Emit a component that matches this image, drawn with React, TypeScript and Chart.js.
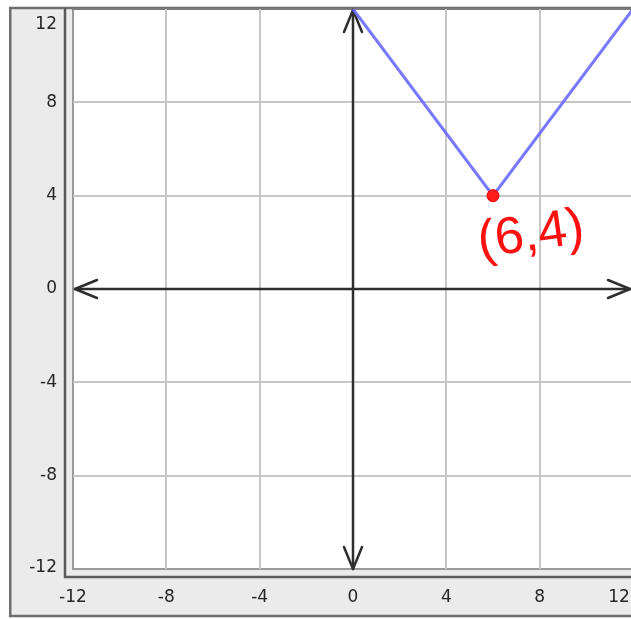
import React, { useEffect, useRef } from "react";
import { Chart, registerables } from "chart.js";

Chart.register(...registerables);

// Axis ticks (both axes run from -12 to 12 in steps of 4)
const xTicks = [-12, -8, -4, 0, 4, 8, 12];
const yTicks = [-12, -8, -4, 0, 4, 8, 12];

// Graph of y = (4/3)|x - 6| + 4 across the visible window
const lineX = [0, 6, 12];
const lineY = [12, 4, 12];

// Marked vertex
const vertexX = [6];
const vertexY = [4];

const CANVAS_W = 640;
const CANVAS_H = 619;

const FONT = '17px "DejaVu Sans", sans-serif';

function drawArrow(
  ctx: CanvasRenderingContext2D,
  tx: number,
  ty: number,
  dx: number,
  dy: number
) {
  // dx, dy: unit direction the arrow points to
  const len = 22;
  const half = 9;
  const bx = tx - dx * len;
  const by = ty - dy * len;
  const nx = -dy;
  const ny = dx;
  ctx.beginPath();
  ctx.moveTo(bx + nx * half, by + ny * half);
  ctx.lineTo(tx, ty);
  ctx.lineTo(bx - nx * half, by - ny * half);
  ctx.stroke();
}

const framePlugin = {
  id: "coordFrame",
  beforeDraw(chart: any) {
    const { ctx, chartArea } = chart;
    const { left, top, right, bottom } = chartArea;
    ctx.save();
    ctx.fillStyle = "#ffffff";
    ctx.fillRect(0, 0, CANVAS_W, CANVAS_H);

    // outer grey panel
    ctx.fillStyle = "#ebebeb";
    ctx.fillRect(9, 7, CANVAS_W, 610);
    ctx.strokeStyle = "#6e6e6e";
    ctx.lineWidth = 2.5;
    ctx.beginPath();
    ctx.moveTo(10, CANVAS_W);
    ctx.moveTo(CANVAS_W, 8);
    ctx.lineTo(10.25, 8);
    ctx.lineTo(10.25, 616);
    ctx.lineTo(CANVAS_W, 616);
    ctx.stroke();

    // dark outline of the plotting box
    ctx.strokeStyle = "#5a5a5a";
    ctx.lineWidth = 2.5;
    ctx.beginPath();
    ctx.moveTo(65, 8);
    ctx.lineTo(65, 577);
    ctx.lineTo(CANVAS_W, 577);
    ctx.stroke();

    // white plotting area
    ctx.fillStyle = "#ffffff";
    ctx.fillRect(left, top, right - left, bottom - top);

    // inner light outline
    ctx.strokeStyle = "#9a9a9a";
    ctx.lineWidth = 2;
    ctx.beginPath();
    ctx.moveTo(left, top);
    ctx.lineTo(left, bottom);
    ctx.lineTo(CANVAS_W, bottom);
    ctx.stroke();
    ctx.strokeStyle = "#7a7a7a";
    ctx.beginPath();
    ctx.moveTo(left - 1, top);
    ctx.lineTo(CANVAS_W, top);
    ctx.stroke();
    ctx.restore();
  },
  beforeDatasetsDraw(chart: any) {
    const { ctx, scales } = chart;
    const xs = scales.x;
    const ys = scales.y;
    const x0 = xs.getPixelForValue(0);
    const y0 = ys.getPixelForValue(0);
    const xl = xs.getPixelForValue(xTicks[0]);
    const xr = Math.min(xs.getPixelForValue(xTicks[xTicks.length - 1]), 630);
    const yt = ys.getPixelForValue(yTicks[yTicks.length - 1]);
    const yb = ys.getPixelForValue(yTicks[0]);
    ctx.save();
    ctx.strokeStyle = "#2e2e2e";
    ctx.lineWidth = 2.5;
    ctx.lineCap = "round";
    ctx.lineJoin = "round";
    ctx.beginPath();
    ctx.moveTo(xl + 2, y0);
    ctx.lineTo(xr, y0);
    ctx.moveTo(x0, yt + 1);
    ctx.lineTo(x0, yb);
    ctx.stroke();
    drawArrow(ctx, xl + 2, y0, -1, 0);
    drawArrow(ctx, xr, y0, 1, 0);
    drawArrow(ctx, x0, yt + 1, 0, -1);
    drawArrow(ctx, x0, yb, 0, 1);
    ctx.restore();
  },
  afterDraw(chart: any) {
    const { ctx, scales } = chart;
    const xs = scales.x;
    const ys = scales.y;
    ctx.save();
    ctx.font = FONT;
    ctx.fillStyle = "#262626";

    // y tick labels, kept inside the panel
    ctx.textAlign = "right";
    ctx.textBaseline = "middle";
    for (const v of yTicks) {
      const y = Math.min(Math.max(ys.getPixelForValue(v), 25), 568);
      ctx.fillText(String(v), 57, y);
    }

    // x tick labels, kept inside the visible width
    ctx.textAlign = "center";
    for (const v of xTicks) {
      const x = Math.min(xs.getPixelForValue(v), 619);
      ctx.fillText(String(v), x, 598);
    }

    // vertex annotation
    const px = xs.getPixelForValue(vertexX[0]);
    const py = ys.getPixelForValue(vertexY[0]);
    ctx.translate(px + 38, py + 40);
    ctx.rotate(-0.14);
    ctx.fillStyle = "#ff1010";
    ctx.font = '52px "Liberation Sans", sans-serif';
    ctx.textAlign = "center";
    ctx.textBaseline = "middle";
    ctx.fillText(`(${vertexX[0]},${vertexY[0]})`, 0, 0);
    ctx.restore();
  },
};

export default function App() {
  const canvasRef = useRef<HTMLCanvasElement | null>(null);

  useEffect(() => {
    const canvas = canvasRef.current;
    if (!canvas) return;

    const gridColor = (c: any) => {
      const v = c.tick ? c.tick.value : 0;
      return v === 0 || Math.abs(v) === 12 ? "rgba(0,0,0,0)" : "#c6c6c6";
    };

    const chart = new Chart(canvas, {
      type: "scatter",
      data: {
        datasets: [
          {
            label: "line",
            data: lineX.map((x, i) => ({ x, y: lineY[i] })),
            showLine: true,
            borderColor: "rgba(105,105,255,0.9)",
            borderWidth: 3,
            pointRadius: 0,
            fill: false,
            order: 2,
          },
          {
            label: "vertex",
            data: vertexX.map((x, i) => ({ x, y: vertexY[i] })),
            pointRadius: 6,
            backgroundColor: "#ff1a1a",
            borderColor: "#ee0000",
            borderWidth: 1,
            order: 1,
          },
        ],
      },
      options: {
        responsive: false,
        animation: false,
        devicePixelRatio: 1,
        layout: {
          padding: { left: 73, top: 9, right: CANVAS_W - 633, bottom: CANVAS_H - 569 },
        },
        plugins: {
          legend: { display: false },
          tooltip: { enabled: false },
        },
        scales: {
          x: {
            type: "linear",
            min: -12,
            max: 12,
            afterBuildTicks: (s: any) => {
              s.ticks = xTicks.map((value) => ({ value }));
            },
            ticks: { display: false },
            grid: { drawTicks: false, color: gridColor, lineWidth: 2 },
            border: { display: false },
          },
          y: {
            type: "linear",
            min: -12,
            max: 12,
            afterBuildTicks: (s: any) => {
              s.ticks = yTicks.map((value) => ({ value }));
            },
            ticks: { display: false },
            grid: { drawTicks: false, color: gridColor, lineWidth: 2 },
            border: { display: false },
          },
        },
      },
      plugins: [framePlugin],
    });

    return () => chart.destroy();
  }, []);

  return (
    <div
      style={{
        position: "fixed",
        left: 0,
        top: 0,
        width: 631,
        height: 619,
        overflow: "hidden",
        background: "#ffffff",
      }}
    >
      <canvas
        ref={canvasRef}
        width={CANVAS_W}
        height={CANVAS_H}
        style={{ display: "block", width: CANVAS_W, height: CANVAS_H }}
      />
    </div>
  );
}
